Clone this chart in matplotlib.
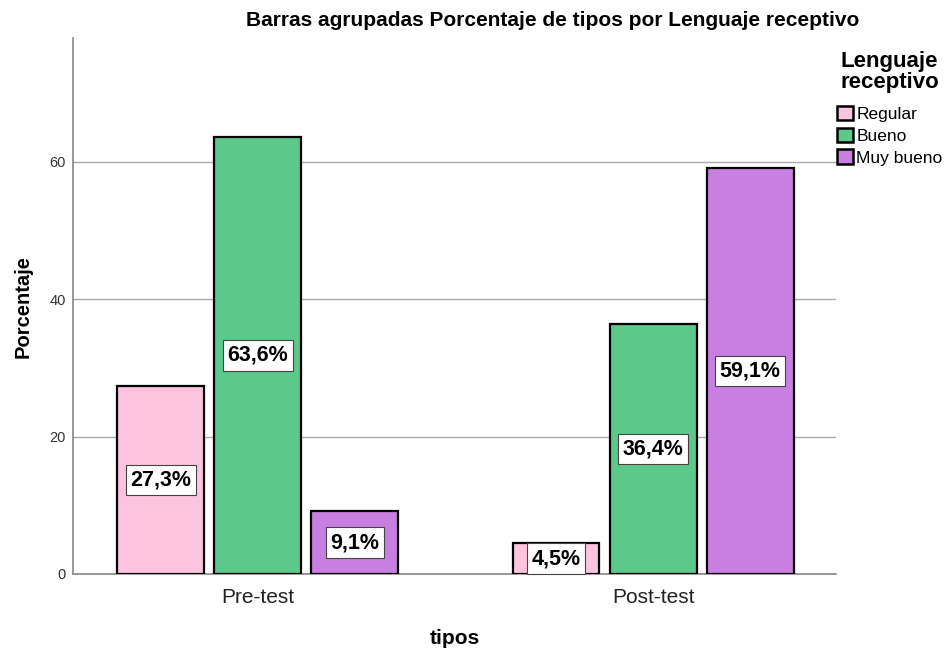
import matplotlib
matplotlib.use("Agg")
import matplotlib.pyplot as plt
from matplotlib.patches import Patch
import numpy as np

plt.rcParams['font.family'] = ['Liberation Sans', 'DejaVu Sans']

categories = ["Pre-test", "Post-test"]
series = ["Regular", "Bueno", "Muy bueno"]
values = {
    "Regular": [27.3, 4.5],
    "Bueno": [63.6, 36.4],
    "Muy bueno": [9.1, 59.1],
}
colors = {"Regular": "#FDC3DF", "Bueno": "#5CC98A", "Muy bueno": "#C97FE2"}

fig = plt.figure(figsize=(9.45, 6.51), dpi=100)
ax = fig.add_axes([0.0772, 0.1183, 0.8075, 0.8233])

x = np.arange(len(categories))
width = 0.22
step = 0.2456
for i, s in enumerate(series):
    pos = x + (i - 1) * step
    bars = ax.bar(pos, values[s], width=width, color=colors[s], edgecolor="black", linewidth=1.6, zorder=3)
    for b, v in zip(bars, values[s]):
        ax.text(b.get_x() + b.get_width() / 2, v / 2, f"{v:.1f}%".replace(".", ","),
                ha="center", va="center", fontsize=15.5, fontweight="bold", zorder=4,
                bbox=dict(boxstyle="square,pad=0.22", facecolor="white", edgecolor="#444444", linewidth=0.8))

ax.set_xlim(-0.468, 1.463)
ax.set_ylim(0, 78)
ax.set_yticks([0, 20, 40, 60])
ax.set_xticks(x)
ax.set_xticklabels(categories, fontsize=15, color="#222222")
ax.tick_params(axis="y", length=0, labelsize=10.5, colors="#333333", pad=5)
ax.tick_params(axis="x", length=0, pad=10)
ax.yaxis.grid(True, color="#AAAAAA", linewidth=1, zorder=0)
ax.set_axisbelow(True)
for sp in ["top", "right"]:
    ax.spines[sp].set_visible(False)
ax.spines["left"].set_color("#888888")
ax.spines["bottom"].set_color("#888888")
ax.spines["left"].set_linewidth(1.2)
ax.spines["bottom"].set_linewidth(1.2)

ax.set_ylabel("Porcentaje", fontsize=14.5, fontweight="bold", labelpad=12)
ax.set_xlabel("tipos", fontsize=15, fontweight="bold", labelpad=16)
fig.text(0.5847, 0.969, "Barras agrupadas Porcentaje de tipos por Lenguaje receptivo",
         ha="center", va="center", fontsize=15, fontweight="bold")

handles = [Patch(facecolor=colors[s], edgecolor="black", linewidth=1.8, label=s) for s in series]
leg = fig.legend(handles=handles, loc="upper left", bbox_to_anchor=(0.886, 0.921),
                 frameon=False, fontsize=12.5, title="Lenguaje\nreceptivo",
                 title_fontproperties={"weight": "bold", "size": 16},
                 handlelength=0.9, handleheight=0.9, handletextpad=0.2, labelspacing=0.32,
                 borderpad=0.0, borderaxespad=0.0, alignment="center")
leg.get_title().set_linespacing(1.0)
leg._legend_handle_box.sep = 12
leg._legend_box.sep = 9

fig.savefig("out.png", dpi=100)
